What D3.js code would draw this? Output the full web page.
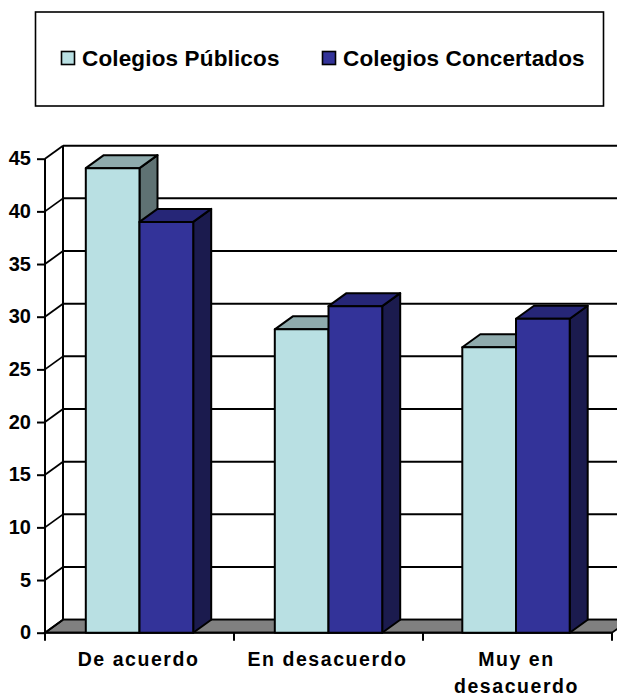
<!DOCTYPE html>
<html>
<head>
<meta charset="utf-8">
<script src="https://cdnjs.cloudflare.com/ajax/libs/d3/7.8.5/d3.min.js"></script>
<style>
  html, body { margin: 0; padding: 0; background: #fff; }
  svg { display: block; }
  text { font-family: "Liberation Sans", Arial, sans-serif; font-weight: bold; fill: #000; }
</style>
</head>
<body>
<div id="container"></div>
<script>
const categories = ['De acuerdo', 'En desacuerdo', 'Muy en desacuerdo']
const seriesNames = ['Colegios Públicos', 'Colegios Concertados']
const publicos = [44.1, 28.8, 27.1]
const concertados = [39, 31, 29.8]
const yTicks = [0, 5, 10, 15, 20, 25, 30, 35, 40, 45]

const width = 617, height = 698
const depthX = 18, depthY = 13

const palette = [
  { front: '#b9e0e3', top: '#8fabad', side: '#5f7273' },
  { front: '#333399', top: '#262677', side: '#1b1b4e' }
]

const svg = d3.select('#container').append('svg')
  .attr('width', width).attr('height', height)

// legend
svg.append('rect')
  .attr('x', 35.5).attr('y', 12).attr('width', 568).attr('height', 94)
  .attr('fill', '#fff').attr('stroke', '#000').attr('stroke-width', 1.6)

const legendX = [61, 322]
seriesNames.forEach((name, i) => {
  svg.append('rect')
    .attr('x', legendX[i] + 0.5).attr('y', 51.5).attr('width', 13).attr('height', 13)
    .attr('fill', palette[i].front).attr('stroke', '#000').attr('stroke-width', 1.6)
  svg.append('text')
    .attr('x', legendX[i] + 21).attr('y', 66)
    .style('font-size', '22.5px')
    .style('letter-spacing', '0.15px')
    .text(name)
})

const y = d3.scaleLinear().domain([0, 45]).range([632.7, 158.7])
const x0 = d3.scaleBand().domain(categories).range([45, 612]).paddingInner(0).paddingOuter(0)
const barW = 53.7
const x1 = d3.scaleBand().domain([0, 1]).range([0, barW * 2])
const groupPad = (x0.bandwidth() - barW * 2) / 2

const right = width + 2

// back wall and grid lines
svg.append('g').selectAll('line')
  .data(yTicks)
  .enter().append('line')
  .attr('x1', 45 + depthX).attr('x2', right)
  .attr('y1', d => y(d) - depthY).attr('y2', d => y(d) - depthY)
  .attr('stroke', '#000').attr('stroke-width', 2)

svg.append('line')
  .attr('x1', 45 + depthX).attr('x2', 45 + depthX)
  .attr('y1', y(45) - depthY).attr('y2', y(0) - depthY)
  .attr('stroke', '#000').attr('stroke-width', 2)

// floor
svg.append('path')
  .attr('d', d3.line()([
    [45, y(0)], [45 + depthX, y(0) - depthY], [612 + depthX, y(0) - depthY], [612, y(0)]
  ]) + 'Z')
  .attr('fill', '#808080').attr('stroke', '#000').attr('stroke-width', 1.8)

// side wall diagonals
svg.append('g').selectAll('line')
  .data(yTicks)
  .enter().append('line')
  .attr('x1', 45).attr('x2', 45 + depthX)
  .attr('y1', d => y(d)).attr('y2', d => y(d) - depthY)
  .attr('stroke', '#000').attr('stroke-width', 1.8)

// y axis
const yAxis = d3.axisLeft(y).tickValues(yTicks).tickSize(8).tickPadding(6)
const yG = svg.append('g').attr('transform', 'translate(45,0)').call(yAxis)
yG.select('.domain').attr('stroke-width', 2).attr('d', `M0,${y(45)}V${y(0)}`)
yG.selectAll('line').attr('stroke-width', 2)
yG.selectAll('text').style('font-size', '20px').attr('dy', '0.3em')

// x axis with ticks between the groups
const xTicks = categories.map(c => x0(c)).concat([612])
svg.append('line')
  .attr('x1', 45).attr('x2', 612).attr('y1', y(0)).attr('y2', y(0))
  .attr('stroke', '#000').attr('stroke-width', 2)
svg.append('g').selectAll('line')
  .data(xTicks)
  .enter().append('line')
  .attr('x1', d => d).attr('x2', d => d)
  .attr('y1', y(0)).attr('y2', y(0) + 8)
  .attr('stroke', '#000').attr('stroke-width', 2)

// bars, drawn back to front inside each group
const bars = []
categories.forEach((c, i) => {
  bars.push({ cat: c, s: 0, value: publicos[i], nudge: i === 2 ? -1.5 : 0 })
  bars.push({ cat: c, s: 1, value: concertados[i], nudge: i === 2 ? -1.5 : 0 })
})

const barG = svg.append('g')
  .attr('stroke', '#000').attr('stroke-width', 2).attr('stroke-linejoin', 'round')

bars.forEach(d => {
  const left = x0(d.cat) + groupPad + x1(d.s) + d.nudge
  const r = left + barW
  const top = y(d.value)
  const base = y(0)
  barG.append('path')
    .attr('d', d3.line()([[r, top], [r + depthX, top - depthY], [r + depthX, base - depthY], [r, base]]) + 'Z')
    .attr('fill', palette[d.s].side)
  barG.append('path')
    .attr('d', d3.line()([[left, top], [left + depthX, top - depthY], [r + depthX, top - depthY], [r, top]]) + 'Z')
    .attr('fill', palette[d.s].top)
  barG.append('rect')
    .attr('x', left).attr('y', top).attr('width', barW).attr('height', base - top)
    .attr('fill', palette[d.s].front)
})

// category labels
const labelLines = { 'De acuerdo': ['De acuerdo'], 'En desacuerdo': ['En desacuerdo'], 'Muy en desacuerdo': ['Muy en', 'desacuerdo'] }
categories.forEach(c => {
  labelLines[c].forEach((t, j) => {
    svg.append('text')
      .attr('x', x0(c) + x0.bandwidth() / 2 - 1)
      .attr('y', 666 + j * 27)
      .attr('text-anchor', 'middle')
      .style('font-size', '19.5px')
      .style('letter-spacing', '1.55px')
      .text(t)
  })
})
</script>
</body>
</html>
